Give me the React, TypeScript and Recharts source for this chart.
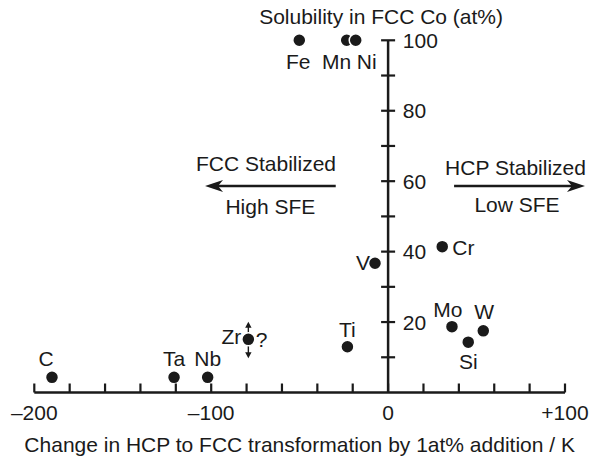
import React from "react";
import { ScatterChart, Scatter, XAxis, YAxis, ReferenceLine, ReferenceDot, Label } from "recharts";

// alloying elements in Co: shift of the HCP->FCC transformation (K per at%) vs solubility in FCC Co
const elements = ["C", "Ta", "Nb", "Zr", "Ti", "V", "Cr", "Mo", "Si", "W", "Fe", "Mn", "Ni"];
const shiftK = [-190, -121, -102, -79, -23, -7.4, 30.6, 36.1, 45.3, 53.8, -50.2, -23.4, -18.3];
const solubility = [4.3, 4.3, 4.3, 15.1, 13.0, 36.7, 41.4, 18.7, 14.3, 17.5, 100, 100, 100];

const xTicks = [-200, -180, -160, -140, -120, -100, -80, -60, -40, -20, 0, 20, 40, 60, 80, 100];
const xTickLabels: Record<string, string> = { "-200": "–200", "-100": "–100", "0": "0", "100": "+100" };
const yTicks = [10, 20, 30, 40, 50, 60, 70, 80, 90, 100];
const yTickLabels = [20, 40, 60, 80, 100];

const titleText = "Solubility in FCC Co (at%)";
const xAxisTitle = "Change in HCP to FCC transformation by 1at% addition / K";

// the two direction arrows (data coordinates)
const arrowTails = [-29.6, 37.3];
const arrowHeads = [-103.5, 111.3];
const arrowLevel = 58.6;
const arrowTopText = ["FCC Stabilized", "HCP Stabilized"];
const arrowBottomText = ["High SFE", "Low SFE"];
const uncertainElement = "Zr";

const INK = "#1a1a1a";
const FONT = "'Liberation Sans', Arial, Helvetica, sans-serif";
const FS = 21;

// where each element's name sits relative to its dot (px, baseline)
const labelPlacement: Record<string, { dx: number; dy: number; anchor: "start" | "middle" | "end" }> = {
  C: { dx: -6, dy: -11.6, anchor: "middle" },
  Ta: { dx: 0, dy: -11.6, anchor: "middle" },
  Nb: { dx: 0, dy: -11.6, anchor: "middle" },
  Zr: { dx: -7, dy: 5, anchor: "end" },
  Ti: { dx: 0, dy: -10, anchor: "middle" },
  V: { dx: -5, dy: 7, anchor: "end" },
  Cr: { dx: 10, dy: 8, anchor: "start" },
  Mo: { dx: -4, dy: -10, anchor: "middle" },
  Si: { dx: 0, dy: 27, anchor: "middle" },
  W: { dx: 1, dy: -11.4, anchor: "middle" },
  Fe: { dx: -1, dy: 29, anchor: "middle" },
  Mn: { dx: -10, dy: 29, anchor: "middle" },
  Ni: { dx: 11, dy: 29, anchor: "middle" },
};

const arrowTextStyle = [
  { topDx: -4.4, topDy: -15.3, bottomDx: 0, bottomDy: 28 },
  { topDx: -4, topDy: -11, bottomDx: -2.5, bottomDy: 25.7 },
];

const points = elements.map((name, i) => ({ name, x: shiftK[i], y: solubility[i] }));

const SmallArrow = ({ x, from, to }: { x: number; from: number; to: number }) => {
  const dir = Math.sign(to - from);
  return (
    <g>
      <line x1={x} y1={from} x2={x} y2={to - dir * 4} stroke={INK} strokeWidth={1.4} />
      <polygon points={`${x},${to} ${x - 3.2},${to - dir * 6} ${x + 3.2},${to - dir * 6}`} fill={INK} />
    </g>
  );
};

const ElementDot = (props: any) => {
  const { cx, cy, payload } = props;
  const place = labelPlacement[payload.name];
  const uncertain = payload.name === uncertainElement;
  return (
    <g>
      {uncertain && (
        <g>
          <SmallArrow x={cx} from={cy - 5} to={cy - 17.6} />
          <SmallArrow x={cx} from={cy + 5} to={cy + 19} />
          <text x={cx + 7.3} y={cy + 7.4} fontSize={FS} fontFamily={FONT} fill={INK}>?</text>
        </g>
      )}
      <circle cx={cx} cy={cy} r={6.5} fill={INK} stroke="#fff" strokeWidth={1.5} />
      <text
        x={cx + place.dx}
        y={cy + place.dy}
        textAnchor={place.anchor}
        fontSize={FS}
        fontFamily={FONT}
        fill={INK}
      >
        {payload.name}
      </text>
    </g>
  );
};

const XTick = (props: any) => {
  const { x, y, payload } = props;
  const label = xTickLabels[String(payload.value)];
  return (
    <g>
      <line x1={x} x2={x} y1={y} y2={y - 9} stroke={INK} strokeWidth={2.2} />
      {label && (
        <text x={x} y={y + 27.5} textAnchor="middle" fontSize={FS} fontFamily={FONT} fill={INK}>
          {label}
        </text>
      )}
    </g>
  );
};

const YTick = (props: any) => {
  const { cx, cy, label } = props;
  return (
    <g>
      <line x1={cx - 7} x2={cx + 7} y1={cy} y2={cy} stroke={INK} strokeWidth={2.2} />
      {label && (
        <text x={cx + 14.7} y={cy + 7.5} fontSize={FS} fontFamily={FONT} fill={INK}>
          {label}
        </text>
      )}
    </g>
  );
};

const VerticalAxis = (props: any) => {
  const { x1, y1, x2, y2 } = props;
  const top = Math.min(y1, y2);
  return (
    <g>
      <line x1={x1} y1={y1} x2={x2} y2={y2} stroke={INK} strokeWidth={2.5} />
      <text x={x1 - 7} y={top - 16} textAnchor="middle" fontSize={FS} fontFamily={FONT} fill={INK}>
        {titleText}
      </text>
    </g>
  );
};

const DirectionArrow = (props: any) => {
  const { x1, y1, x2, top, bottom, style } = props;
  const dir = Math.sign(x2 - x1);
  const mid = (x1 + x2) / 2;
  return (
    <g>
      <line x1={x1} y1={y1} x2={x2 - dir * 10} y2={y1} stroke={INK} strokeWidth={2.5} />
      <polygon
        points={`${x2},${y1} ${x2 - dir * 18},${y1 - 6} ${x2 - dir * 13},${y1} ${x2 - dir * 18},${y1 + 6}`}
        fill={INK}
      />
      <text x={mid + style.topDx} y={y1 + style.topDy} textAnchor="middle" fontSize={FS} fontFamily={FONT} fill={INK}>
        {top}
      </text>
      <text x={mid + style.bottomDx} y={y1 + style.bottomDy} textAnchor="middle" fontSize={FS} fontFamily={FONT} fill={INK}>
        {bottom}
      </text>
    </g>
  );
};

export default function App() {
  return (
    <div style={{ position: "absolute", left: 0, top: 0, width: 592, height: 460, fontFamily: FONT }}>
      <ScatterChart width={592} height={460} margin={{ top: 40.3, right: 27, bottom: 5.5, left: 34.3 }}>
        <XAxis
          type="number"
          dataKey="x"
          domain={[-200, 100]}
          ticks={xTicks}
          interval={0}
          height={62}
          tickSize={0}
          tickMargin={0}
          tickLine={false}
          tick={<XTick />}
          axisLine={{ stroke: INK, strokeWidth: 2.5 }}
        >
          <Label value={xAxisTitle} position="insideBottom" offset={3} fontSize={FS} fontFamily={FONT} fill={INK} />
        </XAxis>
        <YAxis type="number" dataKey="y" domain={[0, 100]} hide />
        <ReferenceLine
          segment={[{ x: 0, y: 0 }, { x: 0, y: 100 }]}
          ifOverflow="visible"
          shape={(p: any) => <VerticalAxis {...p} />}
        />
        {yTicks.map((t) => (
          <ReferenceDot
            key={t}
            x={0}
            y={t}
            ifOverflow="visible"
            shape={(p: any) => <YTick {...p} label={yTickLabels.includes(t) ? String(t) : ""} />}
          />
        ))}
        {arrowTails.map((tail, i) => (
          <ReferenceLine
            key={i}
            segment={[{ x: tail, y: arrowLevel }, { x: arrowHeads[i], y: arrowLevel }]}
            ifOverflow="visible"
            shape={(p: any) => (
              <DirectionArrow {...p} top={arrowTopText[i]} bottom={arrowBottomText[i]} style={arrowTextStyle[i]} />
            )}
          />
        ))}
        <Scatter data={points} isAnimationActive={false} shape={(p: any) => <ElementDot {...p} />} />
      </ScatterChart>
    </div>
  );
}
